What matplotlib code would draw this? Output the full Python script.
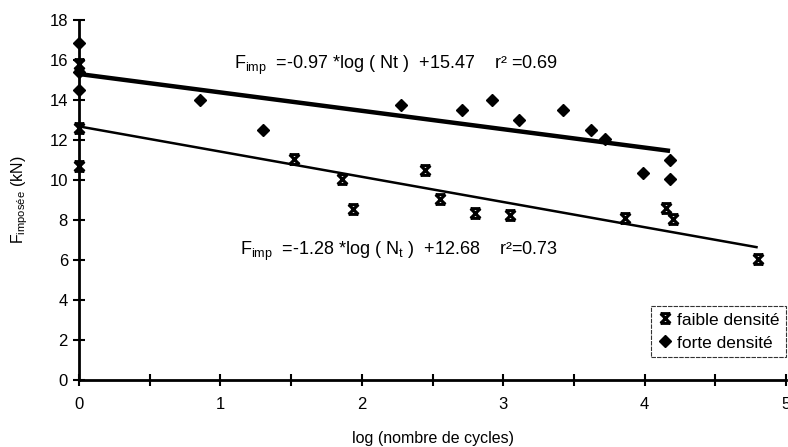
import matplotlib
matplotlib.use("Agg")
import matplotlib.pyplot as plt
import numpy as np
from matplotlib.path import Path

plt.rcParams['font.family'] = ['Liberation Sans', 'DejaVu Sans']
plt.rcParams['mathtext.default'] = 'regular'

# ---- data ----
faible_x = [0.0, 0.0, 0.0, 1.52, 1.86, 1.94, 2.45, 2.55, 2.80, 3.05, 3.86, 4.15, 4.20, 4.80]
faible_y = [15.8, 12.6, 10.7, 11.05, 10.05, 8.55, 10.5, 9.05, 8.35, 8.25, 8.1, 8.6, 8.05, 6.05]
forte_x = [0.0, 0.0, 0.0, 0.855, 1.30, 2.28, 2.71, 2.92, 3.11, 3.42, 3.62, 3.72, 3.99, 4.18, 4.18]
forte_y = [16.85, 15.4, 14.5, 14.0, 12.5, 13.75, 13.5, 14.0, 13.0, 13.5, 12.5, 12.05, 10.35, 11.0, 10.05]

faible_fit = {"slope": -1.26, "intercept": 12.68, "xmax": 4.80}
forte_fit = {"slope": -0.92, "intercept": 15.3, "xmax": 4.18}

eq_forte = r"F$_{imp}$  =-0.97 *log ( Nt )  +15.47    r² =0.69"
eq_faible = r"F$_{imp}$  =-1.28 *log ( N$_t$ )  +12.68    r²=0.73"

x_major = [0, 1, 2, 3, 4, 5]
y_major = [0, 2, 4, 6, 8, 10, 12, 14, 16, 18]

# ---- figure ----
fig = plt.figure(figsize=(7.88, 4.47), dpi=100)
ax = fig.add_axes([79/788, 67/447, (786-79)/788, (380-20)/447])

hour = Path([(-1, -1), (1, 1), (-1, 1), (1, -1), (-1, 1), (1, 1), (-1, -1), (1, -1)],
            [Path.MOVETO, Path.LINETO, Path.MOVETO, Path.LINETO,
             Path.MOVETO, Path.LINETO, Path.MOVETO, Path.LINETO])

for fit, lw in ((forte_fit, 3.2), (faible_fit, 1.8)):
    xs = np.array([0.0, fit["xmax"]])
    ax.plot(xs, fit["slope"] * xs + fit["intercept"], color='black', lw=lw,
            solid_capstyle='butt', zorder=2)

ax.plot(faible_x, faible_y, linestyle='none', marker=hour, markersize=7,
        markeredgewidth=2.2, color='black', label='faible densité', zorder=3, clip_on=False)
ax.plot(forte_x, forte_y, linestyle='none', marker='D', markersize=6.5,
        color='black', label='forte densité', zorder=3, clip_on=False)

ax.text(2.24, 15.75, eq_forte, ha='center', va='center', fontsize=13)
ax.text(2.26, 6.45, eq_faible, ha='center', va='center', fontsize=13)

ax.set_xlim(0, 5)
ax.set_ylim(0, 18)
ax.set_xticks(x_major)
ax.set_xticks(np.arange(0, 5.01, 0.5), minor=True)
ax.set_yticks(y_major)
ax.tick_params(axis='both', which='both', direction='inout', width=1.5, labelsize=12)
ax.tick_params(axis='both', which='major', length=8)
ax.tick_params(axis='x', which='minor', length=8)
ax.tick_params(axis='x', pad=8)
ax.tick_params(axis='y', pad=4)
for s in ('top', 'right'):
    ax.spines[s].set_visible(False)
for s in ('left', 'bottom'):
    ax.spines[s].set_linewidth(2)

ax.set_xlabel('log (nombre de cycles)', fontsize=11.5, labelpad=14)
ax.set_ylabel(r'F$_{imposée}$ (kN)', fontsize=11.5, labelpad=14)

leg = ax.legend(loc='lower right', bbox_to_anchor=(1.0, 0.065), fontsize=12.5,
                frameon=True, fancybox=False, handletextpad=0.2, borderpad=0.35,
                handlelength=1.0, labelspacing=0.45, borderaxespad=0.0)
leg.get_frame().set_edgecolor('black')
leg.get_frame().set_linewidth(0.8)
leg.get_frame().set_linestyle((0, (4, 1)))

fig.savefig('out.png', dpi=100)
